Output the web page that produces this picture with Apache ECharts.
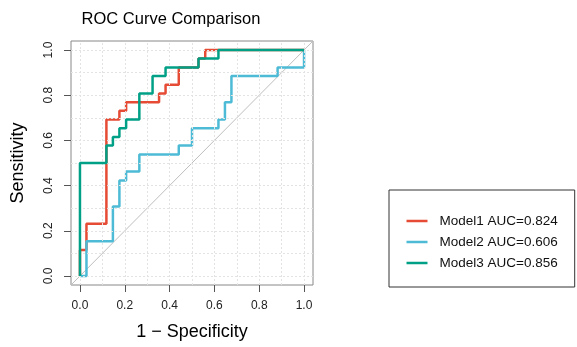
<!DOCTYPE html>
<html><head><meta charset="utf-8">
<script src="https://cdn.jsdelivr.net/npm/echarts@6/dist/echarts.min.js"></script>
<style>html,body{margin:0;padding:0;background:#fff}#c{width:577px;height:347px}</style>
</head><body><div id="c"></div>
<script>
const seriesNames = ['Model1 AUC=0.824', 'Model2 AUC=0.606', 'Model3 AUC=0.856'];
const colors = ['#E64B35', '#4DBBD5', '#00A087'];
const model1Fpr = [0, 0, 0.029, 0.029, 0.118, 0.118, 0.176, 0.176, 0.206, 0.206, 0.353, 0.353, 0.382, 0.382, 0.441, 0.441, 0.529, 0.529, 0.559, 0.559, 1];
const model1Tpr = [0, 0.115, 0.115, 0.231, 0.231, 0.692, 0.692, 0.731, 0.731, 0.769, 0.769, 0.808, 0.808, 0.846, 0.846, 0.923, 0.923, 0.962, 0.962, 1, 1];
const model2Fpr = [0, 0.029, 0.029, 0.147, 0.147, 0.176, 0.176, 0.206, 0.206, 0.265, 0.265, 0.441, 0.441, 0.5, 0.5, 0.618, 0.618, 0.647, 0.647, 0.676, 0.676, 0.882, 0.882, 1, 1];
const model2Tpr = [0, 0, 0.154, 0.154, 0.308, 0.308, 0.423, 0.423, 0.462, 0.462, 0.538, 0.538, 0.577, 0.577, 0.654, 0.654, 0.692, 0.692, 0.769, 0.769, 0.885, 0.885, 0.923, 0.923, 1];
const model3Fpr = [0, 0, 0.118, 0.118, 0.147, 0.147, 0.176, 0.176, 0.206, 0.206, 0.265, 0.265, 0.324, 0.324, 0.382, 0.382, 0.529, 0.529, 0.618, 0.618, 1];
const model3Tpr = [0, 0.5, 0.5, 0.577, 0.577, 0.615, 0.615, 0.654, 0.654, 0.692, 0.692, 0.808, 0.808, 0.885, 0.885, 0.923, 0.923, 0.962, 0.962, 1, 1];
const diagX = [-0.04, 1.04];
const diagY = [-0.04, 1.04];
const tickValues = [0, 0.2, 0.4, 0.6, 0.8, 1.0];
const gridValues = [0, 0.1, 0.2, 0.3, 0.4, 0.5, 0.6, 0.7, 0.8, 0.9, 1.0];
const axisMin = -0.04, axisMax = 1.04;

const zip = (a, b) => a.map((v, i) => [v, b[i]]);
const font = 'Liberation Sans, Arial, sans-serif';
const chart = echarts.init(document.getElementById('c'), null, {renderer: 'canvas'});

const curves = [[model1Fpr, model1Tpr], [model2Fpr, model2Tpr], [model3Fpr, model3Tpr]];
const series = [{
  type: 'line', name: 'ref', data: zip(diagX, diagY), symbol: 'none', silent: true,
  lineStyle: {color: '#BEBEBE', width: 1}, z: 1,
  markLine: {
    silent: true, symbol: 'none', label: {show: false},
    lineStyle: {color: '#E3E3E3', type: [2, 2], width: 1},
    data: gridValues.map(v => ({xAxis: v})).concat(gridValues.map(v => ({yAxis: v})))
  }
}];
curves.forEach((c, i) => {
  series.push({
    type: 'line', name: seriesNames[i], data: zip(c[0], c[1]), symbol: 'none',
    lineStyle: {color: colors[i], width: 2.5}, itemStyle: {color: colors[i]}, z: 3 + i
  });
});

chart.setOption({
  animation: false,
  title: {text: 'ROC Curve Comparison', left: 166, top: 6, textAlign: 'center',
    textStyle: {fontFamily: font, fontSize: 16.5, fontWeight: 'normal', color: '#000'}},
  grid: {left: 71, right: 264, top: 41, bottom: 62, show: true, borderColor: '#888', borderWidth: 1, containLabel: false},
  xAxis: {
    type: 'value', min: axisMin, max: axisMax,
    name: '1 − Specificity', nameLocation: 'middle', nameGap: 38,
    nameTextStyle: {fontFamily: font, fontSize: 18, color: '#000'},
    axisLine: {show: false, onZero: false},
    axisTick: {show: true, inside: false, length: 7, customValues: tickValues, lineStyle: {color: '#555'}},
    axisLabel: {customValues: tickValues, margin: 15, fontFamily: font, fontSize: 12, color: '#222',
      formatter: v => v.toFixed(1)},
    splitLine: {show: false}
  },
  yAxis: {
    type: 'value', min: axisMin, max: axisMax,
    name: 'Sensitivity', nameLocation: 'middle', nameGap: 44,
    nameTextStyle: {fontFamily: font, fontSize: 18, color: '#000'},
    axisLine: {show: false, onZero: false},
    axisTick: {show: true, inside: false, length: 7, customValues: tickValues, lineStyle: {color: '#555'}},
    axisLabel: {customValues: tickValues, margin: 16, rotate: 90, fontFamily: font, fontSize: 12, color: '#222',
      formatter: v => v.toFixed(1)},
    splitLine: {show: false}
  },
  legend: {
    data: seriesNames, orient: 'vertical', left: 389, top: 190,
    padding: [24, 17, 17, 17.5], icon: 'rect', itemWidth: 21, itemHeight: 2.5, itemGap: 7,
    borderColor: '#333', borderWidth: 1, borderRadius: 0,
    textStyle: {fontFamily: font, fontSize: 13.5, lineHeight: 14, color: '#111', padding: [0, 0, 0, 7]}
  },
  series: series
});
</script></body></html>
